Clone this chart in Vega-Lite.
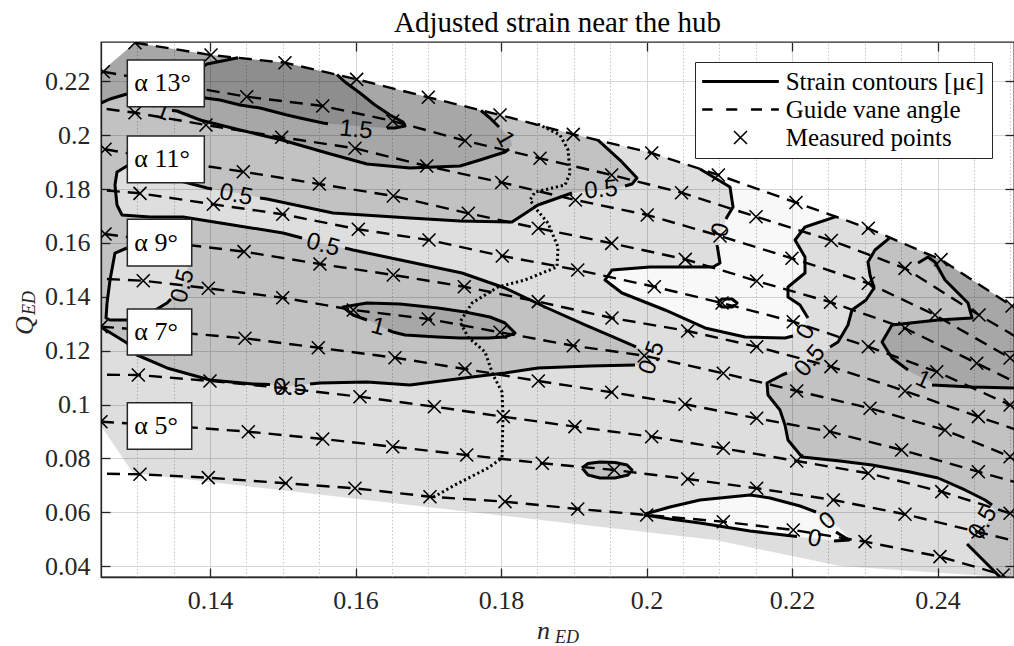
{
"$schema":"https://vega.github.io/schema/vega-lite/v6.json",
"width":913,"height":535,
"autosize":{"type":"none"},
"padding":{"left":101,"top":42,"right":0,"bottom":69},
"background":"white",
"title":{"text":"Adjusted strain near the hub","font":"Liberation Serif","fontSize":29,"fontWeight":"normal","color":"black","offset":3},
"config":{"view":{"stroke":"#262626","strokeWidth":1.3},"axis":{"labelFont":"Liberation Serif","labelFontSize":26,"labelColor":"#262626","domainColor":"#262626","tickColor":"#262626"}},
"datasets":{
"base":[{"i":1,"n":0.125,"q":0.22346},{"i":2,"n":0.12967,"q":0.23434},{"i":3,"n":0.14012,"q":0.22976},{"i":4,"n":0.15029,"q":0.22691},{"i":5,"n":0.16015,"q":0.22075},{"i":6,"n":0.16999,"q":0.21407},{"i":7,"n":0.17985,"q":0.2075},{"i":8,"n":0.18992,"q":0.20033},{"i":9,"n":0.2007,"q":0.19339},{"i":10,"n":0.20734,"q":0.18745},{"i":11,"n":0.21146,"q":0.18077},{"i":12,"n":0.21188,"q":0.17335},{"i":13,"n":0.21105,"q":0.16964},{"i":14,"n":0.21037,"q":0.16407},{"i":15,"n":0.20968,"q":0.1585},{"i":16,"n":0.21009,"q":0.15256},{"i":17,"n":0.20913,"q":0.15108},{"i":18,"n":0.20047,"q":0.15108},{"i":19,"n":0.19524,"q":0.14996},{"i":20,"n":0.19428,"q":0.14625},{"i":21,"n":0.19662,"q":0.14143},{"i":22,"n":0.20253,"q":0.13512},{"i":23,"n":0.20803,"q":0.12844},{"i":24,"n":0.21353,"q":0.12509},{"i":25,"n":0.21902,"q":0.12472},{"i":26,"n":0.22108,"q":0.12769},{"i":27,"n":0.22218,"q":0.13215},{"i":28,"n":0.22108,"q":0.13697},{"i":29,"n":0.21943,"q":0.13994},{"i":30,"n":0.21943,"q":0.14365},{"i":31,"n":0.22177,"q":0.14885},{"i":32,"n":0.22177,"q":0.15479},{"i":33,"n":0.2204,"q":0.1611},{"i":34,"n":0.22177,"q":0.16592},{"i":35,"n":0.22603,"q":0.16978},{"i":36,"n":0.23047,"q":0.16544},{"i":37,"n":0.24047,"q":0.15379},{"i":38,"n":0.2505,"q":0.13623},{"i":39,"n":0.2505,"q":0.036},{"i":40,"n":0.249,"q":0.036},{"i":41,"n":0.22658,"q":0.04009},{"i":42,"n":0.2094,"q":0.04974},{"i":43,"n":0.20459,"q":0.05122},{"i":44,"n":0.20459,"q":0.05716},{"i":45,"n":0.20734,"q":0.05605},{"i":46,"n":0.21421,"q":0.05308},{"i":47,"n":0.22108,"q":0.05085},{"i":48,"n":0.22521,"q":0.04974},{"i":49,"n":0.22796,"q":0.04974},{"i":50,"n":0.22658,"q":0.05419},{"i":51,"n":0.22383,"q":0.05902},{"i":52,"n":0.22108,"q":0.06236},{"i":53,"n":0.21696,"q":0.06533},{"i":54,"n":0.21421,"q":0.06644},{"i":55,"n":0.20734,"q":0.06459},{"i":56,"n":0.20321,"q":0.06199},{"i":57,"n":0.19978,"q":0.05939},{"i":58,"n":0.19978,"q":0.05902},{"i":59,"n":0.20321,"q":0.05754},{"i":60,"n":0.20459,"q":0.05716},{"i":61,"n":0.20459,"q":0.05122},{"i":62,"n":0.16747,"q":0.06273},{"i":63,"n":0.1294,"q":0.07461},{"i":64,"n":0.125,"q":0.09206}],
"white":[{"g":1,"i":1,"n":0.20734,"q":0.18745},{"g":1,"i":2,"n":0.20986,"q":0.18523},{"g":1,"i":3,"n":0.22053,"q":0.17502},{"g":1,"i":4,"n":0.22603,"q":0.16978},{"g":1,"i":5,"n":0.22177,"q":0.16592},{"g":1,"i":6,"n":0.2204,"q":0.1611},{"g":1,"i":7,"n":0.22177,"q":0.15479},{"g":1,"i":8,"n":0.22177,"q":0.14885},{"g":1,"i":9,"n":0.21943,"q":0.14365},{"g":1,"i":10,"n":0.21943,"q":0.13994},{"g":1,"i":11,"n":0.22108,"q":0.13697},{"g":1,"i":12,"n":0.22218,"q":0.13215},{"g":1,"i":13,"n":0.22108,"q":0.12769},{"g":1,"i":14,"n":0.21902,"q":0.12472},{"g":1,"i":15,"n":0.21353,"q":0.12509},{"g":1,"i":16,"n":0.20803,"q":0.12844},{"g":1,"i":17,"n":0.20253,"q":0.13512},{"g":1,"i":18,"n":0.19662,"q":0.14143},{"g":1,"i":19,"n":0.19428,"q":0.14625},{"g":1,"i":20,"n":0.19524,"q":0.14996},{"g":1,"i":21,"n":0.20047,"q":0.15108},{"g":1,"i":22,"n":0.20913,"q":0.15108},{"g":1,"i":23,"n":0.21009,"q":0.15256},{"g":1,"i":24,"n":0.20968,"q":0.1585},{"g":1,"i":25,"n":0.21037,"q":0.16407},{"g":1,"i":26,"n":0.21105,"q":0.16964},{"g":1,"i":27,"n":0.21188,"q":0.17335},{"g":1,"i":28,"n":0.21146,"q":0.18077},
{"g":2,"i":1,"n":0.19978,"q":0.05939},{"g":2,"i":2,"n":0.20321,"q":0.06199},{"g":2,"i":3,"n":0.20734,"q":0.06459},{"g":2,"i":4,"n":0.21421,"q":0.06644},{"g":2,"i":5,"n":0.21696,"q":0.06533},{"g":2,"i":6,"n":0.22108,"q":0.06236},{"g":2,"i":7,"n":0.22383,"q":0.05902},{"g":2,"i":8,"n":0.22658,"q":0.05419},{"g":2,"i":9,"n":0.22796,"q":0.04974},{"g":2,"i":10,"n":0.22521,"q":0.04974},{"g":2,"i":11,"n":0.22108,"q":0.05085},{"g":2,"i":12,"n":0.21421,"q":0.05308},{"g":2,"i":13,"n":0.20734,"q":0.05605},{"g":2,"i":14,"n":0.20321,"q":0.05754},{"g":2,"i":15,"n":0.19978,"q":0.05902}],
"mid":[{"g":1,"i":1,"n":0.125,"q":0.22346},{"g":1,"i":2,"n":0.12967,"q":0.23434},{"g":1,"i":3,"n":0.14012,"q":0.22976},{"g":1,"i":4,"n":0.15029,"q":0.22691},{"g":1,"i":5,"n":0.16015,"q":0.22075},{"g":1,"i":6,"n":0.16999,"q":0.21407},{"g":1,"i":7,"n":0.17985,"q":0.2075},{"g":1,"i":8,"n":0.18992,"q":0.20033},{"g":1,"i":9,"n":0.19332,"q":0.19814},{"g":1,"i":10,"n":0.19634,"q":0.19079},{"g":1,"i":11,"n":0.19868,"q":0.18411},{"g":1,"i":12,"n":0.19799,"q":0.18189},{"g":1,"i":13,"n":0.19607,"q":0.1804},{"g":1,"i":14,"n":0.19359,"q":0.17966},{"g":1,"i":15,"n":0.18974,"q":0.17855},{"g":1,"i":16,"n":0.18507,"q":0.17409},{"g":1,"i":17,"n":0.1815,"q":0.16778},{"g":1,"i":18,"n":0.17435,"q":0.16815},{"g":1,"i":19,"n":0.16747,"q":0.16927},{"g":1,"i":20,"n":0.15689,"q":0.17112},{"g":1,"i":21,"n":0.14782,"q":0.17632},{"g":1,"i":22,"n":0.1437,"q":0.17855},{"g":1,"i":23,"n":0.13957,"q":0.1804},{"g":1,"i":24,"n":0.13545,"q":0.18337},{"g":1,"i":25,"n":0.13174,"q":0.18634},{"g":1,"i":26,"n":0.12857,"q":0.18857},{"g":1,"i":27,"n":0.1272,"q":0.18634},{"g":1,"i":28,"n":0.12692,"q":0.18151},{"g":1,"i":29,"n":0.1272,"q":0.17409},{"g":1,"i":30,"n":0.12789,"q":0.17038},{"g":1,"i":31,"n":0.13174,"q":0.16964},{"g":1,"i":32,"n":0.13627,"q":0.16964},{"g":1,"i":33,"n":0.14314,"q":0.16667},{"g":1,"i":34,"n":0.15002,"q":0.1637},{"g":1,"i":35,"n":0.1551,"q":0.15999},{"g":1,"i":36,"n":0.15964,"q":0.15739},{"g":1,"i":37,"n":0.16747,"q":0.15293},{"g":1,"i":38,"n":0.17462,"q":0.14885},{"g":1,"i":39,"n":0.18053,"q":0.14328},{"g":1,"i":40,"n":0.18603,"q":0.13623},{"g":1,"i":41,"n":0.19153,"q":0.12955},{"g":1,"i":42,"n":0.19634,"q":0.12398},{"g":1,"i":43,"n":0.1995,"q":0.12027},{"g":1,"i":44,"n":0.20074,"q":0.11767},{"g":1,"i":45,"n":0.20019,"q":0.11544},{"g":1,"i":46,"n":0.1984,"q":0.1147},{"g":1,"i":47,"n":0.19222,"q":0.11433},{"g":1,"i":48,"n":0.18507,"q":0.11359},{"g":1,"i":49,"n":0.18053,"q":0.11173},{"g":1,"i":50,"n":0.176,"q":0.11024},{"g":1,"i":51,"n":0.16747,"q":0.10728},{"g":1,"i":52,"n":0.16156,"q":0.10839},{"g":1,"i":53,"n":0.1551,"q":0.10802},{"g":1,"i":54,"n":0.15098,"q":0.1069},{"g":1,"i":55,"n":0.14589,"q":0.10765},{"g":1,"i":56,"n":0.13998,"q":0.10913},{"g":1,"i":57,"n":0.13407,"q":0.11359},{"g":1,"i":58,"n":0.12995,"q":0.11841},{"g":1,"i":59,"n":0.12857,"q":0.12287},{"g":1,"i":60,"n":0.125,"q":0.12881},
{"g":2,"i":1,"n":0.23346,"q":0.16199},{"g":2,"i":2,"n":0.24047,"q":0.15379},{"g":2,"i":3,"n":0.2505,"q":0.13623},{"g":2,"i":4,"n":0.2505,"q":0.036},{"g":2,"i":5,"n":0.24858,"q":0.036},{"g":2,"i":6,"n":0.24652,"q":0.04157},{"g":2,"i":7,"n":0.24404,"q":0.04788},{"g":2,"i":8,"n":0.24514,"q":0.0516},{"g":2,"i":9,"n":0.24721,"q":0.05716},{"g":2,"i":10,"n":0.24789,"q":0.06088},{"g":2,"i":11,"n":0.24652,"q":0.06459},{"g":2,"i":12,"n":0.24377,"q":0.0683},{"g":2,"i":13,"n":0.24006,"q":0.07275},{"g":2,"i":14,"n":0.23621,"q":0.07498},{"g":2,"i":15,"n":0.23098,"q":0.07758},{"g":2,"i":16,"n":0.22658,"q":0.07906},{"g":2,"i":17,"n":0.22136,"q":0.08055},{"g":2,"i":18,"n":0.21943,"q":0.08686},{"g":2,"i":19,"n":0.21902,"q":0.09243},{"g":2,"i":20,"n":0.21833,"q":0.098},{"g":2,"i":21,"n":0.21668,"q":0.10356},{"g":2,"i":22,"n":0.21655,"q":0.10802},{"g":2,"i":23,"n":0.21861,"q":0.11099},{"g":2,"i":24,"n":0.22108,"q":0.11359},{"g":2,"i":25,"n":0.22383,"q":0.11804},{"g":2,"i":26,"n":0.22631,"q":0.12324},{"g":2,"i":27,"n":0.22768,"q":0.12955},{"g":2,"i":28,"n":0.22823,"q":0.13512},{"g":2,"i":29,"n":0.23016,"q":0.13883},{"g":2,"i":30,"n":0.23126,"q":0.14328},{"g":2,"i":31,"n":0.23071,"q":0.14811},{"g":2,"i":32,"n":0.23043,"q":0.15293},{"g":2,"i":33,"n":0.23139,"q":0.15739},
{"g":3,"i":1,"n":0.19112,"q":0.07647},{"g":3,"i":2,"n":0.19195,"q":0.07814},{"g":3,"i":3,"n":0.19359,"q":0.07869},{"g":3,"i":4,"n":0.19566,"q":0.07851},{"g":3,"i":5,"n":0.19731,"q":0.07758},{"g":3,"i":6,"n":0.19799,"q":0.07572},{"g":3,"i":7,"n":0.19744,"q":0.07387},{"g":3,"i":8,"n":0.19566,"q":0.07275},{"g":3,"i":9,"n":0.19359,"q":0.07275},{"g":3,"i":10,"n":0.19195,"q":0.07387}],
"pocket":[{"i":1,"n":0.12857,"q":0.15813},{"i":2,"n":0.12692,"q":0.15627},{"i":3,"n":0.12624,"q":0.14625},{"i":4,"n":0.12583,"q":0.13771},{"i":5,"n":0.12569,"q":0.13215},{"i":6,"n":0.12624,"q":0.1314},{"i":7,"n":0.12857,"q":0.1314},{"i":8,"n":0.13105,"q":0.13326},{"i":9,"n":0.1327,"q":0.13549},{"i":10,"n":0.13407,"q":0.13771},{"i":11,"n":0.13586,"q":0.14254},{"i":12,"n":0.13669,"q":0.14811},{"i":13,"n":0.13696,"q":0.15145},{"i":14,"n":0.13311,"q":0.15442}],
"dark":[{"g":1,"i":1,"n":0.125,"q":0.22346},{"g":1,"i":2,"n":0.12967,"q":0.23434},{"g":1,"i":3,"n":0.14012,"q":0.22976},{"g":1,"i":4,"n":0.15029,"q":0.22691},{"g":1,"i":5,"n":0.16015,"q":0.22075},{"g":1,"i":6,"n":0.16999,"q":0.21407},{"g":1,"i":7,"n":0.17723,"q":0.20917},{"g":1,"i":8,"n":0.17847,"q":0.20638},{"g":1,"i":9,"n":0.17957,"q":0.20379},{"g":1,"i":10,"n":0.18053,"q":0.20082},{"g":1,"i":11,"n":0.18136,"q":0.19822},{"g":1,"i":12,"n":0.1815,"q":0.19636},{"g":1,"i":13,"n":0.18053,"q":0.19376},{"g":1,"i":14,"n":0.1771,"q":0.19079},{"g":1,"i":15,"n":0.17435,"q":0.18857},{"g":1,"i":16,"n":0.16747,"q":0.18782},{"g":1,"i":17,"n":0.16156,"q":0.18931},{"g":1,"i":18,"n":0.15607,"q":0.19339},{"g":1,"i":19,"n":0.14988,"q":0.19822},{"g":1,"i":20,"n":0.14411,"q":0.20193},{"g":1,"i":21,"n":0.13861,"q":0.20564},{"g":1,"i":22,"n":0.13545,"q":0.20898},{"g":1,"i":23,"n":0.13352,"q":0.2101},{"g":1,"i":24,"n":0.13242,"q":0.21084},{"g":1,"i":25,"n":0.13036,"q":0.21307},{"g":1,"i":26,"n":0.12857,"q":0.21529},{"g":1,"i":27,"n":0.12624,"q":0.21344},{"g":1,"i":28,"n":0.125,"q":0.21195},
{"g":2,"i":1,"n":0.15827,"q":0.13623},{"g":2,"i":2,"n":0.16156,"q":0.13771},{"g":2,"i":3,"n":0.1661,"q":0.13734},{"g":2,"i":4,"n":0.17132,"q":0.13586},{"g":2,"i":5,"n":0.17504,"q":0.13437},{"g":2,"i":6,"n":0.17847,"q":0.13252},{"g":2,"i":7,"n":0.18053,"q":0.13029},{"g":2,"i":8,"n":0.18191,"q":0.12658},{"g":2,"i":9,"n":0.18053,"q":0.12509},{"g":2,"i":10,"n":0.1782,"q":0.12472},{"g":2,"i":11,"n":0.17435,"q":0.12472},{"g":2,"i":12,"n":0.17132,"q":0.12509},{"g":2,"i":13,"n":0.16679,"q":0.12584},{"g":2,"i":14,"n":0.16514,"q":0.12695},{"g":2,"i":15,"n":0.16377,"q":0.12843},{"g":2,"i":16,"n":0.16239,"q":0.13066},{"g":2,"i":17,"n":0.15964,"q":0.13326},
{"g":3,"i":1,"n":0.23758,"q":0.15717},{"g":3,"i":2,"n":0.24047,"q":0.15379},{"g":3,"i":3,"n":0.2505,"q":0.13623},{"g":3,"i":4,"n":0.2505,"q":0.10616},{"g":3,"i":5,"n":0.24473,"q":0.10653},{"g":3,"i":6,"n":0.24006,"q":0.10728},{"g":3,"i":7,"n":0.23648,"q":0.11173},{"g":3,"i":8,"n":0.23373,"q":0.1173},{"g":3,"i":9,"n":0.23236,"q":0.12324},{"g":3,"i":10,"n":0.23373,"q":0.12955},{"g":3,"i":11,"n":0.24006,"q":0.1314},{"g":3,"i":12,"n":0.24473,"q":0.13215},{"g":3,"i":13,"n":0.24418,"q":0.13771},{"g":3,"i":14,"n":0.24102,"q":0.14625},{"g":3,"i":15,"n":0.23896,"q":0.15293}],
"darker":[{"i":1,"n":0.14383,"q":0.22873},{"i":2,"n":0.15029,"q":0.22691},{"i":3,"n":0.15744,"q":0.22246},{"i":4,"n":0.15854,"q":0.21975},{"i":5,"n":0.1606,"q":0.21566},{"i":6,"n":0.16266,"q":0.21121},{"i":7,"n":0.16473,"q":0.2075},{"i":8,"n":0.16651,"q":0.2049},{"i":9,"n":0.16679,"q":0.20341},{"i":10,"n":0.16541,"q":0.20267},{"i":11,"n":0.16431,"q":0.20267},{"i":12,"n":0.16197,"q":0.20304},{"i":13,"n":0.15854,"q":0.20379},{"i":14,"n":0.15552,"q":0.20453},{"i":15,"n":0.15235,"q":0.20638},{"i":16,"n":0.15057,"q":0.2075},{"i":17,"n":0.14686,"q":0.2101},{"i":18,"n":0.14411,"q":0.21121},{"i":19,"n":0.14136,"q":0.21307},{"i":20,"n":0.1393,"q":0.21381},{"i":21,"n":0.13834,"q":0.21678},{"i":22,"n":0.13834,"q":0.2242},{"i":23,"n":0.13957,"q":0.22643},{"i":24,"n":0.14163,"q":0.22754}],
"contours":[
{"s":"c1a","i":1,"n":0.125,"q":0.21195},{"s":"c1a","i":2,"n":0.12624,"q":0.21344},{"s":"c1a","i":3,"n":0.12857,"q":0.21529},{"s":"c1a","i":4,"n":0.13036,"q":0.21307},{"s":"c1a","i":5,"n":0.13242,"q":0.21084},
{"s":"c1b","i":1,"n":0.13476,"q":0.20917},{"s":"c1b","i":2,"n":0.13545,"q":0.20898},{"s":"c1b","i":3,"n":0.13861,"q":0.20564},{"s":"c1b","i":4,"n":0.14411,"q":0.20193},{"s":"c1b","i":5,"n":0.14988,"q":0.19822},{"s":"c1b","i":6,"n":0.15607,"q":0.19339},{"s":"c1b","i":7,"n":0.16156,"q":0.18931},{"s":"c1b","i":8,"n":0.16747,"q":0.18782},{"s":"c1b","i":9,"n":0.17435,"q":0.18857},{"s":"c1b","i":10,"n":0.1771,"q":0.19079},{"s":"c1b","i":11,"n":0.18053,"q":0.19376},{"s":"c1b","i":12,"n":0.18109,"q":0.19488},
{"s":"c1c","i":1,"n":0.17971,"q":0.20304},{"s":"c1c","i":2,"n":0.17847,"q":0.20638},{"s":"c1c","i":3,"n":0.17723,"q":0.20917},
{"s":"c15a","i":1,"n":0.14383,"q":0.22873},{"s":"c15a","i":2,"n":0.14163,"q":0.22754},{"s":"c15a","i":3,"n":0.13957,"q":0.22643},{"s":"c15a","i":4,"n":0.13834,"q":0.2242},
{"s":"c15b","i":1,"n":0.13834,"q":0.21678},{"s":"c15b","i":2,"n":0.1393,"q":0.21381},{"s":"c15b","i":3,"n":0.14136,"q":0.21307},{"s":"c15b","i":4,"n":0.14411,"q":0.21121},{"s":"c15b","i":5,"n":0.14686,"q":0.2101},{"s":"c15b","i":6,"n":0.15057,"q":0.2075},{"s":"c15b","i":7,"n":0.15235,"q":0.20638},{"s":"c15b","i":8,"n":0.15552,"q":0.20453},{"s":"c15b","i":9,"n":0.1562,"q":0.20423},
{"s":"c15c","i":1,"n":0.16431,"q":0.20267},{"s":"c15c","i":2,"n":0.16541,"q":0.20267},{"s":"c15c","i":3,"n":0.16679,"q":0.20341},{"s":"c15c","i":4,"n":0.16651,"q":0.2049},{"s":"c15c","i":5,"n":0.16473,"q":0.2075},{"s":"c15c","i":6,"n":0.16266,"q":0.21121},{"s":"c15c","i":7,"n":0.1606,"q":0.21566},{"s":"c15c","i":8,"n":0.15854,"q":0.21975},{"s":"c15c","i":9,"n":0.15744,"q":0.22246},
{"s":"c05a","i":1,"n":0.19332,"q":0.19814},{"s":"c05a","i":2,"n":0.19634,"q":0.19079},{"s":"c05a","i":3,"n":0.19868,"q":0.18411},{"s":"c05a","i":4,"n":0.19799,"q":0.18189},{"s":"c05a","i":5,"n":0.19703,"q":0.18114},
{"s":"c05b","i":1,"n":0.18974,"q":0.17855},{"s":"c05b","i":2,"n":0.18507,"q":0.17409},{"s":"c05b","i":3,"n":0.1815,"q":0.16778},{"s":"c05b","i":4,"n":0.17435,"q":0.16815},{"s":"c05b","i":5,"n":0.16747,"q":0.16927},{"s":"c05b","i":6,"n":0.15689,"q":0.17112},{"s":"c05b","i":7,"n":0.14782,"q":0.17632},{"s":"c05b","i":8,"n":0.14686,"q":0.17669},
{"s":"c05c","i":1,"n":0.14026,"q":0.18003},{"s":"c05c","i":2,"n":0.13957,"q":0.1804},{"s":"c05c","i":3,"n":0.13545,"q":0.18337},{"s":"c05c","i":4,"n":0.13174,"q":0.18634},{"s":"c05c","i":5,"n":0.12857,"q":0.18857},{"s":"c05c","i":6,"n":0.1272,"q":0.18634},{"s":"c05c","i":7,"n":0.12692,"q":0.18151},{"s":"c05c","i":8,"n":0.1272,"q":0.17409},{"s":"c05c","i":9,"n":0.12789,"q":0.17038},{"s":"c05c","i":10,"n":0.13174,"q":0.16964},{"s":"c05c","i":11,"n":0.13627,"q":0.16964},{"s":"c05c","i":12,"n":0.14314,"q":0.16667},{"s":"c05c","i":13,"n":0.15002,"q":0.1637},{"s":"c05c","i":14,"n":0.15263,"q":0.16184},
{"s":"c05d","i":1,"n":0.15854,"q":0.15813},{"s":"c05d","i":2,"n":0.15964,"q":0.15739},{"s":"c05d","i":3,"n":0.16747,"q":0.15293},{"s":"c05d","i":4,"n":0.17462,"q":0.14885},{"s":"c05d","i":5,"n":0.18053,"q":0.14328},{"s":"c05d","i":6,"n":0.18603,"q":0.13623},{"s":"c05d","i":7,"n":0.19153,"q":0.12955},{"s":"c05d","i":8,"n":0.19634,"q":0.12398},{"s":"c05d","i":9,"n":0.19854,"q":0.12138},
{"s":"c05e","i":1,"n":0.1984,"q":0.1147},{"s":"c05e","i":2,"n":0.19222,"q":0.11433},{"s":"c05e","i":3,"n":0.18507,"q":0.11359},{"s":"c05e","i":4,"n":0.18053,"q":0.11173},{"s":"c05e","i":5,"n":0.176,"q":0.11024},{"s":"c05e","i":6,"n":0.16747,"q":0.10728},{"s":"c05e","i":7,"n":0.16156,"q":0.10839},{"s":"c05e","i":8,"n":0.1551,"q":0.10802},{"s":"c05e","i":9,"n":0.15373,"q":0.10765},
{"s":"c05f","i":1,"n":0.14823,"q":0.10746},{"s":"c05f","i":2,"n":0.14589,"q":0.10765},{"s":"c05f","i":3,"n":0.13998,"q":0.10913},{"s":"c05f","i":4,"n":0.13407,"q":0.11359},{"s":"c05f","i":5,"n":0.12995,"q":0.11841},{"s":"c05f","i":6,"n":0.12857,"q":0.12287},{"s":"c05f","i":7,"n":0.125,"q":0.12881},
{"s":"c05g","i":1,"n":0.12857,"q":0.15813},{"s":"c05g","i":2,"n":0.12692,"q":0.15627},{"s":"c05g","i":3,"n":0.12624,"q":0.14625},{"s":"c05g","i":4,"n":0.12583,"q":0.13771},{"s":"c05g","i":5,"n":0.12569,"q":0.13215},{"s":"c05g","i":6,"n":0.12624,"q":0.1314},{"s":"c05g","i":7,"n":0.12857,"q":0.1314},
{"s":"c05h","i":1,"n":0.13174,"q":0.134},{"s":"c05h","i":2,"n":0.1327,"q":0.13549},{"s":"c05h","i":3,"n":0.13407,"q":0.13771},{"s":"c05h","i":4,"n":0.13462,"q":0.1392},
{"s":"c0a","i":1,"n":0.20734,"q":0.18745},{"s":"c0a","i":2,"n":0.21146,"q":0.18077},{"s":"c0a","i":3,"n":0.21188,"q":0.17335},{"s":"c0a","i":4,"n":0.21105,"q":0.16964},{"s":"c0a","i":5,"n":0.21091,"q":0.16889},
{"s":"c0b","i":1,"n":0.20968,"q":0.15924},{"s":"c0b","i":2,"n":0.21009,"q":0.15256},{"s":"c0b","i":3,"n":0.20913,"q":0.15108},{"s":"c0b","i":4,"n":0.20047,"q":0.15108},{"s":"c0b","i":5,"n":0.19524,"q":0.14996},{"s":"c0b","i":6,"n":0.19428,"q":0.14625},{"s":"c0b","i":7,"n":0.19662,"q":0.14143},{"s":"c0b","i":8,"n":0.20253,"q":0.13512},{"s":"c0b","i":9,"n":0.20803,"q":0.12844},{"s":"c0b","i":10,"n":0.21353,"q":0.12509},{"s":"c0b","i":11,"n":0.21902,"q":0.12472},{"s":"c0b","i":12,"n":0.22012,"q":0.12547},
{"s":"c0c","i":1,"n":0.22218,"q":0.13215},{"s":"c0c","i":2,"n":0.22108,"q":0.13697},{"s":"c0c","i":3,"n":0.21943,"q":0.13994},{"s":"c0c","i":4,"n":0.21943,"q":0.14365},{"s":"c0c","i":5,"n":0.22177,"q":0.14885},{"s":"c0c","i":6,"n":0.22177,"q":0.15479},{"s":"c0c","i":7,"n":0.2204,"q":0.1611},{"s":"c0c","i":8,"n":0.22177,"q":0.16592},{"s":"c0c","i":9,"n":0.22603,"q":0.16978},
{"s":"c0e","i":1,"n":0.20968,"q":0.13771},{"s":"c0e","i":2,"n":0.21037,"q":0.1392},{"s":"c0e","i":3,"n":0.21174,"q":0.1392},{"s":"c0e","i":4,"n":0.21243,"q":0.13771},{"s":"c0e","i":5,"n":0.21174,"q":0.13623},{"s":"c0e","i":6,"n":0.21037,"q":0.13623},{"s":"c0e","i":7,"n":0.20968,"q":0.13771},
{"s":"w2a","i":1,"n":0.23346,"q":0.16199},{"s":"w2a","i":2,"n":0.23139,"q":0.15739},{"s":"w2a","i":3,"n":0.23043,"q":0.15293},{"s":"w2a","i":4,"n":0.23071,"q":0.14811},{"s":"w2a","i":5,"n":0.23126,"q":0.14328},{"s":"w2a","i":6,"n":0.23016,"q":0.13883},{"s":"w2a","i":7,"n":0.22823,"q":0.13512},{"s":"w2a","i":8,"n":0.22768,"q":0.12955},{"s":"w2a","i":9,"n":0.22631,"q":0.12324},{"s":"w2a","i":10,"n":0.22521,"q":0.12138},
{"s":"w2b","i":1,"n":0.2193,"q":0.11173},{"s":"w2b","i":2,"n":0.21861,"q":0.11099},{"s":"w2b","i":3,"n":0.21655,"q":0.10802},{"s":"w2b","i":4,"n":0.21668,"q":0.10356},{"s":"w2b","i":5,"n":0.21833,"q":0.098},{"s":"w2b","i":6,"n":0.21902,"q":0.09243},{"s":"w2b","i":7,"n":0.21943,"q":0.08686},{"s":"w2b","i":8,"n":0.22136,"q":0.08055},{"s":"w2b","i":9,"n":0.22658,"q":0.07906},{"s":"w2b","i":10,"n":0.23098,"q":0.07758},{"s":"w2b","i":11,"n":0.23621,"q":0.07498},{"s":"w2b","i":12,"n":0.24006,"q":0.07275},{"s":"w2b","i":13,"n":0.24377,"q":0.0683},{"s":"w2b","i":14,"n":0.24652,"q":0.06459},{"s":"w2b","i":15,"n":0.24748,"q":0.06273},
{"s":"w2c","i":1,"n":0.24404,"q":0.04826},{"s":"w2c","i":2,"n":0.24652,"q":0.04157},{"s":"w2c","i":3,"n":0.24858,"q":0.036},
{"s":"w3a","i":1,"n":0.23731,"q":0.15256},{"s":"w3a","i":2,"n":0.23868,"q":0.15479},{"s":"w3a","i":3,"n":0.23964,"q":0.15293},{"s":"w3a","i":4,"n":0.24102,"q":0.14625},{"s":"w3a","i":5,"n":0.24418,"q":0.13771},{"s":"w3a","i":6,"n":0.24473,"q":0.13215},{"s":"w3a","i":7,"n":0.24006,"q":0.1314},{"s":"w3a","i":8,"n":0.23373,"q":0.12955},{"s":"w3a","i":9,"n":0.23236,"q":0.12324},{"s":"w3a","i":10,"n":0.23373,"q":0.1173},{"s":"w3a","i":11,"n":0.23593,"q":0.11284},
{"s":"w3b","i":1,"n":0.23923,"q":0.10728},{"s":"w3b","i":2,"n":0.24473,"q":0.10653},{"s":"w3b","i":3,"n":0.2505,"q":0.10616},
{"s":"d2","i":1,"n":0.16445,"q":0.12769},{"s":"d2","i":2,"n":0.16514,"q":0.12695},{"s":"d2","i":3,"n":0.16679,"q":0.12584},{"s":"d2","i":4,"n":0.17132,"q":0.12509},{"s":"d2","i":5,"n":0.17435,"q":0.12472},{"s":"d2","i":6,"n":0.1782,"q":0.12472},{"s":"d2","i":7,"n":0.18053,"q":0.12509},{"s":"d2","i":8,"n":0.18191,"q":0.12658},{"s":"d2","i":9,"n":0.18053,"q":0.13029},{"s":"d2","i":10,"n":0.17847,"q":0.13252},{"s":"d2","i":11,"n":0.17504,"q":0.13437},{"s":"d2","i":12,"n":0.17132,"q":0.13586},{"s":"d2","i":13,"n":0.1661,"q":0.13734},{"s":"d2","i":14,"n":0.16156,"q":0.13771},{"s":"d2","i":15,"n":0.15827,"q":0.13623},{"s":"d2","i":16,"n":0.15964,"q":0.13326},{"s":"d2","i":17,"n":0.16156,"q":0.1314},
{"s":"m3","i":1,"n":0.19112,"q":0.07647},{"s":"m3","i":2,"n":0.19195,"q":0.07814},{"s":"m3","i":3,"n":0.19359,"q":0.07869},{"s":"m3","i":4,"n":0.19566,"q":0.07851},{"s":"m3","i":5,"n":0.19731,"q":0.07758},{"s":"m3","i":6,"n":0.19799,"q":0.07572},{"s":"m3","i":7,"n":0.19744,"q":0.07387},{"s":"m3","i":8,"n":0.19566,"q":0.07275},{"s":"m3","i":9,"n":0.19359,"q":0.07275},{"s":"m3","i":10,"n":0.19195,"q":0.07387},{"s":"m3","i":11,"n":0.19112,"q":0.07647},
{"s":"isa","i":1,"n":0.19978,"q":0.05939},{"s":"isa","i":2,"n":0.20321,"q":0.06199},{"s":"isa","i":3,"n":0.20734,"q":0.06459},{"s":"isa","i":4,"n":0.21421,"q":0.06644},{"s":"isa","i":5,"n":0.21696,"q":0.06533},{"s":"isa","i":6,"n":0.22108,"q":0.06236},{"s":"isa","i":7,"n":0.22329,"q":0.06013},
{"s":"isb","i":1,"n":0.22603,"q":0.05271},{"s":"isb","i":2,"n":0.22782,"q":0.04974},{"s":"isb","i":3,"n":0.22576,"q":0.04937},
{"s":"isc","i":1,"n":0.22067,"q":0.05104},{"s":"isc","i":2,"n":0.21421,"q":0.05308},{"s":"isc","i":3,"n":0.20734,"q":0.05605},{"s":"isc","i":4,"n":0.20321,"q":0.05754},{"s":"isc","i":5,"n":0.19978,"q":0.05902},{"s":"isc","i":6,"n":0.19978,"q":0.05939}],
"dotted":[{"i":1,"n":0.18507,"q":0.20416},{"i":2,"n":0.1881,"q":0.20007},{"i":3,"n":0.1892,"q":0.19451},{"i":4,"n":0.18948,"q":0.18597},{"i":5,"n":0.18879,"q":0.18151},{"i":6,"n":0.18466,"q":0.17892},{"i":7,"n":0.18397,"q":0.17595},{"i":8,"n":0.18493,"q":0.17223},{"i":9,"n":0.18644,"q":0.16741},{"i":10,"n":0.18782,"q":0.1585},{"i":11,"n":0.18768,"q":0.15108},{"i":12,"n":0.18328,"q":0.14625},{"i":13,"n":0.17957,"q":0.14365},{"i":14,"n":0.176,"q":0.13771},{"i":15,"n":0.17435,"q":0.13066},{"i":16,"n":0.17545,"q":0.12509},{"i":17,"n":0.17779,"q":0.11952},{"i":18,"n":0.17889,"q":0.11099},{"i":19,"n":0.18012,"q":0.10468},{"i":20,"n":0.18026,"q":0.09614},{"i":21,"n":0.18012,"q":0.08018},{"i":22,"n":0.1782,"q":0.07647},{"i":23,"n":0.17366,"q":0.07016},{"i":24,"n":0.1705,"q":0.06533}],
"vanes":[
{"a":14,"i":1,"n":0.12967,"q":0.23434},{"a":14,"i":2,"n":0.14012,"q":0.22976},{"a":14,"i":3,"n":0.15029,"q":0.22691},{"a":14,"i":4,"n":0.16015,"q":0.22075},{"a":14,"i":5,"n":0.16999,"q":0.21407},{"a":14,"i":6,"n":0.17985,"q":0.2075},{"a":14,"i":7,"n":0.18992,"q":0.20033},{"a":14,"i":8,"n":0.2007,"q":0.19339},{"a":14,"i":9,"n":0.20986,"q":0.18523},{"a":14,"i":10,"n":0.22053,"q":0.17502},{"a":14,"i":11,"n":0.23047,"q":0.16544},{"a":14,"i":12,"n":0.24047,"q":0.15379},{"a":14,"i":13,"n":0.25023,"q":0.1366},
{"a":13,"i":1,"n":0.12532,"q":0.22357},{"a":13,"i":2,"n":0.13476,"q":0.21901},{"a":13,"i":3,"n":0.14503,"q":0.21429},{"a":13,"i":4,"n":0.15548,"q":0.21084},{"a":13,"i":5,"n":0.1651,"q":0.20527},{"a":13,"i":6,"n":0.17504,"q":0.19796},{"a":13,"i":7,"n":0.18535,"q":0.19143},{"a":13,"i":8,"n":0.1952,"q":0.18523},{"a":13,"i":9,"n":0.2048,"q":0.17866},{"a":13,"i":10,"n":0.21504,"q":0.16975},{"a":13,"i":11,"n":0.22539,"q":0.16091},{"a":13,"i":12,"n":0.23552,"q":0.15059},{"a":13,"i":13,"n":0.24569,"q":0.13326},{"a":13,"i":14,"n":0.25572,"q":0.1173},
{"a":12,"i":0,"n":0.12005,"q":0.21173},{"a":12,"i":1,"n":0.12967,"q":0.20835},{"a":12,"i":2,"n":0.13943,"q":0.20379},{"a":12,"i":3,"n":0.14984,"q":0.19922},{"a":12,"i":4,"n":0.15991,"q":0.19514},{"a":12,"i":5,"n":0.16977,"q":0.18857},{"a":12,"i":6,"n":0.18008,"q":0.18244},{"a":12,"i":7,"n":0.19022,"q":0.17595},{"a":12,"i":8,"n":0.20008,"q":0.17038},{"a":12,"i":9,"n":0.21009,"q":0.16258},{"a":12,"i":10,"n":0.21998,"q":0.15431},{"a":12,"i":11,"n":0.23047,"q":0.14503},{"a":12,"i":12,"n":0.23964,"q":0.13326},{"a":12,"i":13,"n":0.24996,"q":0.1173},
{"a":11,"i":1,"n":0.12555,"q":0.19477},{"a":11,"i":2,"n":0.13476,"q":0.19042},{"a":11,"i":3,"n":0.14456,"q":0.18645},{"a":11,"i":4,"n":0.15501,"q":0.18188},{"a":11,"i":5,"n":0.16518,"q":0.17743},{"a":11,"i":6,"n":0.17549,"q":0.17101},{"a":11,"i":7,"n":0.18511,"q":0.16544},{"a":11,"i":8,"n":0.1952,"q":0.15987},{"a":11,"i":9,"n":0.20532,"q":0.15393},{"a":11,"i":10,"n":0.21513,"q":0.14588},{"a":11,"i":11,"n":0.22528,"q":0.13801},{"a":11,"i":12,"n":0.23552,"q":0.12832},{"a":11,"i":13,"n":0.24538,"q":0.11533},{"a":11,"i":14,"n":0.25572,"q":0.10171},
{"a":10,"i":0,"n":0.12005,"q":0.18077},{"a":10,"i":1,"n":0.13036,"q":0.17843},{"a":10,"i":2,"n":0.14044,"q":0.17435},{"a":10,"i":3,"n":0.14998,"q":0.17064},{"a":10,"i":4,"n":0.16037,"q":0.16507},{"a":10,"i":5,"n":0.17009,"q":0.1611},{"a":10,"i":6,"n":0.18016,"q":0.15516},{"a":10,"i":7,"n":0.19053,"q":0.14996},{"a":10,"i":8,"n":0.20106,"q":0.14376},{"a":10,"i":9,"n":0.21037,"q":0.13771},{"a":10,"i":10,"n":0.22016,"q":0.13077},{"a":10,"i":11,"n":0.23047,"q":0.12149},{"a":10,"i":12,"n":0.23988,"q":0.11221},{"a":10,"i":13,"n":0.24996,"q":0.09985},
{"a":9,"i":1,"n":0.12555,"q":0.16333},{"a":9,"i":2,"n":0.13476,"q":0.15999},{"a":9,"i":3,"n":0.14466,"q":0.15676},{"a":9,"i":4,"n":0.1551,"q":0.15219},{"a":9,"i":5,"n":0.16518,"q":0.14811},{"a":9,"i":6,"n":0.17494,"q":0.14376},{"a":9,"i":7,"n":0.18511,"q":0.1382},{"a":9,"i":8,"n":0.19524,"q":0.13215},{"a":9,"i":9,"n":0.20565,"q":0.12732},{"a":9,"i":10,"n":0.21513,"q":0.12149},{"a":9,"i":11,"n":0.22534,"q":0.11407},{"a":9,"i":12,"n":0.23552,"q":0.10505},{"a":9,"i":13,"n":0.2456,"q":0.09551},{"a":9,"i":14,"n":0.25572,"q":0.08612},
{"a":8,"i":0,"n":0.12005,"q":0.14737},{"a":8,"i":1,"n":0.13081,"q":0.14599},{"a":8,"i":2,"n":0.13975,"q":0.14317},{"a":8,"i":3,"n":0.14998,"q":0.13968},{"a":8,"i":4,"n":0.15968,"q":0.13512},{"a":8,"i":5,"n":0.16999,"q":0.13177},{"a":8,"i":6,"n":0.17985,"q":0.12684},{"a":8,"i":7,"n":0.18992,"q":0.12186},{"a":8,"i":8,"n":0.19968,"q":0.11815},{"a":8,"i":9,"n":0.21054,"q":0.11162},{"a":8,"i":10,"n":0.22063,"q":0.10505},{"a":8,"i":11,"n":0.23071,"q":0.09863},{"a":8,"i":12,"n":0.24102,"q":0.09057},{"a":8,"i":13,"n":0.24996,"q":0.08066},
{"a":7,"i":1,"n":0.125,"q":0.12892},{"a":7,"i":2,"n":0.13476,"q":0.12695},{"a":7,"i":3,"n":0.14479,"q":0.12461},{"a":7,"i":4,"n":0.15487,"q":0.12112},{"a":7,"i":5,"n":0.16541,"q":0.11741},{"a":7,"i":6,"n":0.17504,"q":0.11321},{"a":7,"i":7,"n":0.18511,"q":0.10876},{"a":7,"i":8,"n":0.1952,"q":0.10457},{"a":7,"i":9,"n":0.20528,"q":0.10011},{"a":7,"i":10,"n":0.21513,"q":0.09491},{"a":7,"i":11,"n":0.22521,"q":0.08994},{"a":7,"i":12,"n":0.23506,"q":0.08315},{"a":7,"i":13,"n":0.2456,"q":0.07509},{"a":7,"i":14,"n":0.25572,"q":0.06737},
{"a":6,"i":0,"n":0.12005,"q":0.11117},{"a":6,"i":1,"n":0.13013,"q":0.11099},{"a":6,"i":2,"n":0.13998,"q":0.10876},{"a":6,"i":3,"n":0.15002,"q":0.10616},{"a":6,"i":4,"n":0.1606,"q":0.10293},{"a":6,"i":5,"n":0.17082,"q":0.09922},{"a":6,"i":6,"n":0.1803,"q":0.09551},{"a":6,"i":7,"n":0.19015,"q":0.0918},{"a":6,"i":8,"n":0.2007,"q":0.08808},{"a":6,"i":9,"n":0.21054,"q":0.08378},{"a":6,"i":10,"n":0.22063,"q":0.07906},{"a":6,"i":11,"n":0.23047,"q":0.0745},{"a":6,"i":12,"n":0.24057,"q":0.06767},{"a":6,"i":13,"n":0.24996,"q":0.05965},
{"a":5,"i":1,"n":0.125,"q":0.09365},{"a":5,"i":2,"n":0.13476,"q":0.09206},{"a":5,"i":3,"n":0.14525,"q":0.08994},{"a":5,"i":4,"n":0.15548,"q":0.08723},{"a":5,"i":5,"n":0.1651,"q":0.08437},{"a":5,"i":6,"n":0.17527,"q":0.08129},{"a":5,"i":7,"n":0.18566,"q":0.07821},{"a":5,"i":8,"n":0.19556,"q":0.07572},{"a":5,"i":9,"n":0.20565,"q":0.07238},{"a":5,"i":10,"n":0.21513,"q":0.06893},{"a":5,"i":11,"n":0.22566,"q":0.06459},{"a":5,"i":12,"n":0.23552,"q":0.05928},{"a":5,"i":13,"n":0.24556,"q":0.05271},{"a":5,"i":14,"n":0.25572,"q":0.04603},
{"a":4,"i":0,"n":0.12005,"q":0.07461},{"a":4,"i":1,"n":0.13036,"q":0.07413},{"a":4,"i":2,"n":0.13975,"q":0.07287},{"a":4,"i":3,"n":0.15039,"q":0.07079},{"a":4,"i":4,"n":0.15991,"q":0.06893},{"a":4,"i":5,"n":0.17022,"q":0.06581},{"a":4,"i":6,"n":0.18053,"q":0.06396},{"a":4,"i":7,"n":0.19053,"q":0.06125},{"a":4,"i":8,"n":0.20001,"q":0.05902},{"a":4,"i":9,"n":0.21054,"q":0.05653},{"a":4,"i":10,"n":0.22016,"q":0.05345},{"a":4,"i":11,"n":0.23002,"q":0.04911},{"a":4,"i":12,"n":0.24033,"q":0.04354},{"a":4,"i":13,"n":0.249,"q":0.03675}],
"clabels":[{"t":"1.5","n":0.16005,"q":0.20193,"ang":6},{"t":"1","n":0.13352,"q":0.20861,"ang":20},{"t":"1","n":0.18053,"q":0.19859,"ang":60},{"t":"0.5","n":0.14356,"q":0.1778,"ang":12},{"t":"0.5","n":0.15552,"q":0.15924,"ang":15},{"t":"0.5","n":0.19373,"q":0.17966,"ang":-5},{"t":"0.5","n":0.20074,"q":0.1173,"ang":-70},{"t":"0.5","n":0.15098,"q":0.10616,"ang":0},{"t":"0.5","n":0.13627,"q":0.14402,"ang":-75},{"t":"0","n":0.21023,"q":0.16481,"ang":-75},{"t":"0","n":0.22191,"q":0.12695,"ang":-60},{"t":"0.5","n":0.22246,"q":0.11618,"ang":-50},{"t":"0.5","n":0.24624,"q":0.05605,"ang":-60},{"t":"1","n":0.23799,"q":0.10913,"ang":25},{"t":"0","n":0.22493,"q":0.05679,"ang":-40},{"t":"0","n":0.22308,"q":0.05011,"ang":10},{"t":"1","n":0.16308,"q":0.12881,"ang":15}],
"boxes":[{"t":"α 13°","n1":0.12862,"n2":0.1392,"q1":0.22792,"q2":0.21058},{"t":"α 11°","n1":0.12862,"n2":0.1392,"q1":0.19971,"q2":0.18237},{"t":"α 9°","n1":0.12862,"n2":0.13747,"q1":0.16879,"q2":0.15145},{"t":"α 7°","n1":0.12862,"n2":0.13747,"q1":0.13549,"q2":0.11841},{"t":"α 5°","n1":0.12862,"n2":0.13747,"q1":0.10071,"q2":0.08341}]
},
"layer":[
{"layer":[
{"data":{"name":"base"},"mark":{"type":"line","interpolate":"linear-closed","fill":"black","fillOpacity":0.129,"stroke":"transparent","strokeWidth":0,"clip":true},
 "encoding":{
  "x":{"field":"n","type":"quantitative","scale":{"domain":[0.125,0.2505],"nice":false,"zero":false},
   "axis":{"title":null,"values":[0.14,0.16,0.18,0.2,0.22,0.24],"format":".2~f","labelOverlap":false,"labelFlush":false,"labelPadding":19,"tickSize":-9,"tickWidth":1.3,"domainWidth":1.3,"grid":true,"gridWidth":1,"gridColor":"#d6d6d6"}},
  "y":{"field":"q","type":"quantitative","scale":{"domain":[0.036,0.2346],"nice":false,"zero":false},
   "axis":{"title":null,"values":[0.04,0.045,0.05,0.055,0.06,0.065,0.07,0.075,0.08,0.085,0.09,0.095,0.1,0.105,0.11,0.115,0.12,0.125,0.13,0.135,0.14,0.145,0.15,0.155,0.16,0.165,0.17,0.175,0.18,0.185,0.19,0.195,0.2,0.205,0.21,0.215,0.22,0.225,0.23],
    "labelExpr":"abs(datum.value*50-round(datum.value*50))<0.01 ? format(datum.value,'.2~f') : ''",
    "labelOverlap":false,"labelFlush":false,"labelPadding":20,"tickSize":-9,"tickWidth":1.3,"domainWidth":1.3,
    "tickOpacity":{"condition":{"test":"abs(datum.value*50-round(datum.value*50))<0.01","value":1},"value":0},
    "grid":true,"gridWidth":1,
    "gridColor":{"condition":{"test":"abs(datum.value*50-round(datum.value*50))<0.01","value":"#d6d6d6"},"value":"#c4c4c4"},
    "gridDash":{"condition":{"test":"abs(datum.value*50-round(datum.value*50))<0.01","value":[]},"value":[1.5,2]}}},
  "order":{"field":"i","type":"quantitative"}}},
{"data":{"name":"white"},"mark":{"type":"line","interpolate":"linear-closed","fill":"black","fillOpacity":0.027,"stroke":"transparent","strokeWidth":0,"clip":true},
 "encoding":{"x":{"field":"n","type":"quantitative"},"y":{"field":"q","type":"quantitative"},"detail":{"field":"g"},"order":{"field":"i","type":"quantitative"}}},
{"data":{"name":"mid"},"mark":{"type":"line","interpolate":"linear-closed","fill":"black","fillOpacity":0.126,"stroke":"transparent","strokeWidth":0,"clip":true},
 "encoding":{"x":{"field":"n","type":"quantitative"},"y":{"field":"q","type":"quantitative"},"detail":{"field":"g"},"order":{"field":"i","type":"quantitative"}}},
{"data":{"name":"pocket"},"mark":{"type":"line","interpolate":"linear-closed","fill":"#dedede","stroke":"transparent","strokeWidth":0,"clip":true},
 "encoding":{"x":{"field":"n","type":"quantitative"},"y":{"field":"q","type":"quantitative"},"order":{"field":"i","type":"quantitative"}}},
{"data":{"name":"dark"},"mark":{"type":"line","interpolate":"linear-closed","fill":"black","fillOpacity":0.139,"stroke":"transparent","strokeWidth":0,"clip":true},
 "encoding":{"x":{"field":"n","type":"quantitative"},"y":{"field":"q","type":"quantitative"},"detail":{"field":"g"},"order":{"field":"i","type":"quantitative"}}},
{"data":{"name":"darker"},"mark":{"type":"line","interpolate":"linear-closed","fill":"black","fillOpacity":0.144,"stroke":"transparent","strokeWidth":0,"clip":true},
 "encoding":{"x":{"field":"n","type":"quantitative"},"y":{"field":"q","type":"quantitative"},"order":{"field":"i","type":"quantitative"}}},
{"data":{"name":"contours"},"mark":{"type":"line","stroke":"black","strokeWidth":3,"strokeJoin":"round","clip":true},
 "encoding":{"x":{"field":"n","type":"quantitative"},"y":{"field":"q","type":"quantitative"},"detail":{"field":"s"},"order":{"field":"i","type":"quantitative"}}},
{"data":{"name":"dotted"},"mark":{"type":"line","stroke":"black","strokeWidth":3,"strokeDash":[2.2,2.8],"clip":true},
 "encoding":{"x":{"field":"n","type":"quantitative"},"y":{"field":"q","type":"quantitative"},"order":{"field":"i","type":"quantitative"}}},
{"data":{"name":"vanes"},"mark":{"type":"line","stroke":"black","strokeWidth":2.4,"strokeDash":[13,8],"clip":true},
 "encoding":{"x":{"field":"n","type":"quantitative"},"y":{"field":"q","type":"quantitative"},"detail":{"field":"a"},"order":{"field":"i","type":"quantitative"}}},
{"data":{"name":"vanes"},"mark":{"type":"point","filled":false,"stroke":"black","strokeWidth":1.6,"size":169,"opacity":1,"clip":true},
 "encoding":{"x":{"field":"n","type":"quantitative"},"y":{"field":"q","type":"quantitative"},
  "shape":{"datum":"Measured points","type":"nominal",
   "scale":{"domain":["Strain contours [μϵ]","Guide vane angle","Measured points"],"range":["M-5.9,-0.09L5.9,-0.09M-5.9,0.09L5.9,0.09","M-5.9,-0.08H-4.3M-2.2,-0.08H-0.5M1.6,-0.08H3.3M4.7,-0.08H5.9M-5.9,0.08H-4.3M-2.2,0.08H-0.5M1.6,0.08H3.3M4.7,0.08H5.9","M-1,-1L1,1M-1,1L1,-1"]},
   "legend":{"title":null,"orient":"none","legendX":594,"legendY":20,"padding":7,"strokeColor":"#262626","fillColor":"white","labelFont":"Liberation Serif","labelFontSize":25,"labelColor":"black","labelLimit":400,"symbolSize":169,"symbolStrokeColor":"black","symbolFillColor":"transparent","symbolStrokeWidth":1.6,"symbolOffset":26,"labelOffset":32.7,"rowPadding":2}}}},
{"data":{"name":"clabels"},"mark":{"type":"text","font":"Liberation Sans","fontSize":24,"color":"black","align":"center","baseline":"middle"},
 "encoding":{"x":{"field":"n","type":"quantitative"},"y":{"field":"q","type":"quantitative"},"text":{"field":"t"},"angle":{"field":"ang","type":"quantitative","scale":null}}},
{"data":{"values":[{}]},"mark":{"type":"text","text":"n","font":"Liberation Serif","fontSize":26,"fontStyle":"italic","align":"left","baseline":"alphabetic","color":"#262626"},
 "encoding":{"x":{"datum":0.18493,"type":"quantitative"},"y":{"datum":0.01299,"type":"quantitative"}}},
{"data":{"values":[{}]},"mark":{"type":"text","text":"ED","font":"Liberation Serif","fontSize":18,"fontStyle":"italic","align":"left","baseline":"alphabetic","color":"#262626"},
 "encoding":{"x":{"datum":0.18741,"type":"quantitative"},"y":{"datum":0.0115,"type":"quantitative"}}},
{"data":{"values":[{}]},"mark":{"type":"text","text":"Q","angle":270,"font":"Liberation Serif","fontSize":26,"fontStyle":"italic","align":"left","baseline":"alphabetic","color":"#262626"},
 "encoding":{"x":{"datum":0.11566,"type":"quantitative"},"y":{"datum":0.12584,"type":"quantitative"}}},
{"data":{"values":[{}]},"mark":{"type":"text","text":"ED","angle":270,"font":"Liberation Serif","fontSize":18,"fontStyle":"italic","align":"left","baseline":"alphabetic","color":"#262626"},
 "encoding":{"x":{"datum":0.11593,"type":"quantitative"},"y":{"datum":0.13326,"type":"quantitative"}}}
]},
{"data":{"name":"boxes"},"mark":{"type":"rect","fill":"white","stroke":"#262626","strokeWidth":1.5},
 "encoding":{
  "x":{"field":"n1","type":"quantitative","scale":{"domain":[0.125,0.2505],"nice":false,"zero":false},
   "axis":{"orient":"top","title":null,"values":[0.13,0.135,0.145,0.15,0.155,0.165,0.17,0.175,0.185,0.19,0.195,0.205,0.21,0.215,0.225,0.23,0.235,0.245,0.25],"labels":false,"domain":false,"ticks":false,"grid":true,"gridWidth":1,"gridColor":"#c4c4c4","gridDash":[1.5,2]}},
  "x2":{"field":"n2"},
  "y":{"field":"q1","type":"quantitative","scale":{"domain":[0.036,0.2346],"nice":false,"zero":false},
   "axis":{"orient":"right","title":null,"values":[0.04,0.06,0.08,0.1,0.12,0.14,0.16,0.18,0.2,0.22],"labels":false,"domain":false,"grid":false,"ticks":true,"tickSize":-9,"tickWidth":1.3}},
  "y2":{"field":"q2"}}},
{"data":{"name":"boxes"},"mark":{"type":"text","align":"left","baseline":"middle","dx":7,"dy":23.3,"font":"Liberation Serif","fontSize":26,"color":"black"},
 "encoding":{
  "x":{"field":"n1","type":"quantitative","axis":{"orient":"top","title":null,"values":[0.14,0.16,0.18,0.2,0.22,0.24],"labels":false,"domain":false,"grid":false,"ticks":true,"tickSize":-9,"tickWidth":1.3}},
  "y":{"field":"q1","type":"quantitative","axis":null},
  "text":{"field":"t"}}}
],
"resolve":{"axis":{"x":"independent","y":"independent"}}
}
